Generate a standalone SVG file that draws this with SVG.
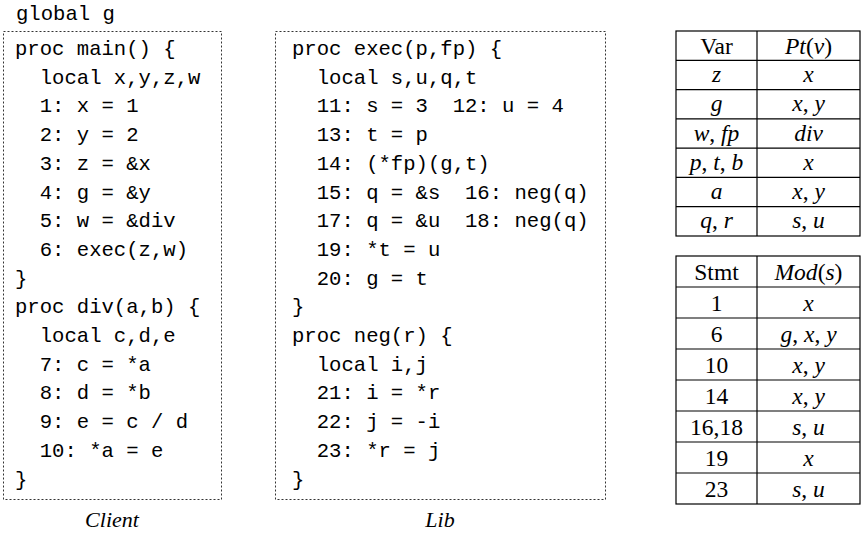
<svg xmlns="http://www.w3.org/2000/svg" width="862" height="540" viewBox="0 0 862 540">
<style>
.code{font-family:"Liberation Mono","DejaVu Sans Mono",monospace;font-size:20.6px;fill:#000;white-space:pre}
.box{fill:none;stroke:#333;stroke-width:1;stroke-dasharray:2,2}
.cap{font-family:"Liberation Serif","DejaVu Serif",serif;font-size:22px;font-style:italic;text-anchor:middle;fill:#000}
.tb{font-family:"Liberation Serif","DejaVu Serif",serif;font-size:23.5px;text-anchor:middle;fill:#000}
.it{font-style:italic}
.grid{fill:none;stroke:#000;stroke-width:1.2}
</style>
<rect width="862" height="540" fill="#fff"/>
<text class="code" x="16" y="20">global g</text>
<g id="client">
<rect class="box" x="3.5" y="31.5" width="218" height="468"/>
<text class="code" xml:space="preserve" x="15" y="55">proc main() {</text>
<text class="code" xml:space="preserve" x="15" y="83.7">  local x,y,z,w</text>
<text class="code" xml:space="preserve" x="15" y="112.4">  1: x = 1</text>
<text class="code" xml:space="preserve" x="15" y="141.1">  2: y = 2</text>
<text class="code" xml:space="preserve" x="15" y="169.8">  3: z = &amp;x</text>
<text class="code" xml:space="preserve" x="15" y="198.5">  4: g = &amp;y</text>
<text class="code" xml:space="preserve" x="15" y="227.2">  5: w = &amp;div</text>
<text class="code" xml:space="preserve" x="15" y="255.9">  6: exec(z,w)</text>
<text class="code" xml:space="preserve" x="15" y="284.6">}</text>
<text class="code" xml:space="preserve" x="15" y="313.3">proc div(a,b) {</text>
<text class="code" xml:space="preserve" x="15" y="342">  local c,d,e</text>
<text class="code" xml:space="preserve" x="15" y="370.7">  7: c = *a</text>
<text class="code" xml:space="preserve" x="15" y="399.4">  8: d = *b</text>
<text class="code" xml:space="preserve" x="15" y="428.1">  9: e = c / d</text>
<text class="code" xml:space="preserve" x="15" y="456.8">  10: *a = e</text>
<text class="code" xml:space="preserve" x="15" y="485.5">}</text>
<text class="cap" x="112" y="527">Client</text>
</g>
<g id="lib">
<rect class="box" x="275.5" y="31.5" width="330" height="468"/>
<text class="code" xml:space="preserve" x="292" y="55">proc exec(p,fp) {</text>
<text class="code" xml:space="preserve" x="292" y="83.7">  local s,u,q,t</text>
<text class="code" xml:space="preserve" x="292" y="112.4">  11: s = 3  12: u = 4</text>
<text class="code" xml:space="preserve" x="292" y="141.1">  13: t = p</text>
<text class="code" xml:space="preserve" x="292" y="169.8">  14: (*fp)(g,t)</text>
<text class="code" xml:space="preserve" x="292" y="198.5">  15: q = &amp;s  16: neg(q)</text>
<text class="code" xml:space="preserve" x="292" y="227.2">  17: q = &amp;u  18: neg(q)</text>
<text class="code" xml:space="preserve" x="292" y="255.9">  19: *t = u</text>
<text class="code" xml:space="preserve" x="292" y="284.6">  20: g = t</text>
<text class="code" xml:space="preserve" x="292" y="313.3">}</text>
<text class="code" xml:space="preserve" x="292" y="342">proc neg(r) {</text>
<text class="code" xml:space="preserve" x="292" y="370.7">  local i,j</text>
<text class="code" xml:space="preserve" x="292" y="399.4">  21: i = *r</text>
<text class="code" xml:space="preserve" x="292" y="428.1">  22: j = -i</text>
<text class="code" xml:space="preserve" x="292" y="456.8">  23: *r = j</text>
<text class="code" xml:space="preserve" x="292" y="485.5">}</text>
<text class="cap" x="440" y="527">Lib</text>
</g>
<g id="pt-table">
<rect class="grid" x="676" y="31" width="184" height="205"/>
<line class="grid" x1="757" y1="31" x2="757" y2="236"/>
<line class="grid" x1="676" y1="60.3" x2="860" y2="60.3"/>
<line class="grid" x1="676" y1="89.6" x2="860" y2="89.6"/>
<line class="grid" x1="676" y1="118.9" x2="860" y2="118.9"/>
<line class="grid" x1="676" y1="148.1" x2="860" y2="148.1"/>
<line class="grid" x1="676" y1="177.4" x2="860" y2="177.4"/>
<line class="grid" x1="676" y1="206.7" x2="860" y2="206.7"/>
<text class="tb" x="716.5" y="53.5">Var</text>
<text class="tb" x="808.5" y="53.5"><tspan class="it">Pt</tspan>(<tspan class="it">v</tspan>)</text>
<text class="tb it" x="716.5" y="82">z</text>
<text class="tb it" x="808.5" y="82">x</text>
<text class="tb it" x="716.5" y="111">g</text>
<text class="tb" x="808.5" y="111"><tspan class="it">x</tspan>, <tspan class="it">y</tspan></text>
<text class="tb" x="716.5" y="140.5"><tspan class="it">w</tspan>, <tspan class="it">fp</tspan></text>
<text class="tb it" x="808.5" y="140.5">div</text>
<text class="tb" x="716.5" y="170"><tspan class="it">p</tspan>, <tspan class="it">t</tspan>, <tspan class="it">b</tspan></text>
<text class="tb it" x="808.5" y="170">x</text>
<text class="tb it" x="716.5" y="199">a</text>
<text class="tb" x="808.5" y="199"><tspan class="it">x</tspan>, <tspan class="it">y</tspan></text>
<text class="tb" x="716.5" y="228"><tspan class="it">q</tspan>, <tspan class="it">r</tspan></text>
<text class="tb" x="808.5" y="228"><tspan class="it">s</tspan>, <tspan class="it">u</tspan></text>
</g>
<g id="mod-table">
<rect class="grid" x="676" y="256" width="184" height="248"/>
<line class="grid" x1="757" y1="256" x2="757" y2="504"/>
<line class="grid" x1="676" y1="287" x2="860" y2="287"/>
<line class="grid" x1="676" y1="318" x2="860" y2="318"/>
<line class="grid" x1="676" y1="349" x2="860" y2="349"/>
<line class="grid" x1="676" y1="380" x2="860" y2="380"/>
<line class="grid" x1="676" y1="411" x2="860" y2="411"/>
<line class="grid" x1="676" y1="442" x2="860" y2="442"/>
<line class="grid" x1="676" y1="473" x2="860" y2="473"/>
<text class="tb" x="716.5" y="279.5">Stmt</text>
<text class="tb" x="808.5" y="279.5"><tspan class="it">Mod</tspan>(<tspan class="it">s</tspan>)</text>
<text class="tb" x="716.5" y="310.5">1</text>
<text class="tb it" x="808.5" y="310.5">x</text>
<text class="tb" x="716.5" y="341.5">6</text>
<text class="tb" x="808.5" y="341.5"><tspan class="it">g</tspan>, <tspan class="it">x</tspan>, <tspan class="it">y</tspan></text>
<text class="tb" x="716.5" y="372.5">10</text>
<text class="tb" x="808.5" y="372.5"><tspan class="it">x</tspan>, <tspan class="it">y</tspan></text>
<text class="tb" x="716.5" y="403.5">14</text>
<text class="tb" x="808.5" y="403.5"><tspan class="it">x</tspan>, <tspan class="it">y</tspan></text>
<text class="tb" x="716.5" y="434.5">16,18</text>
<text class="tb" x="808.5" y="434.5"><tspan class="it">s</tspan>, <tspan class="it">u</tspan></text>
<text class="tb" x="716.5" y="465.5">19</text>
<text class="tb it" x="808.5" y="465.5">x</text>
<text class="tb" x="716.5" y="496.5">23</text>
<text class="tb" x="808.5" y="496.5"><tspan class="it">s</tspan>, <tspan class="it">u</tspan></text>
</g>
<g id="connectors"/>
</svg>
